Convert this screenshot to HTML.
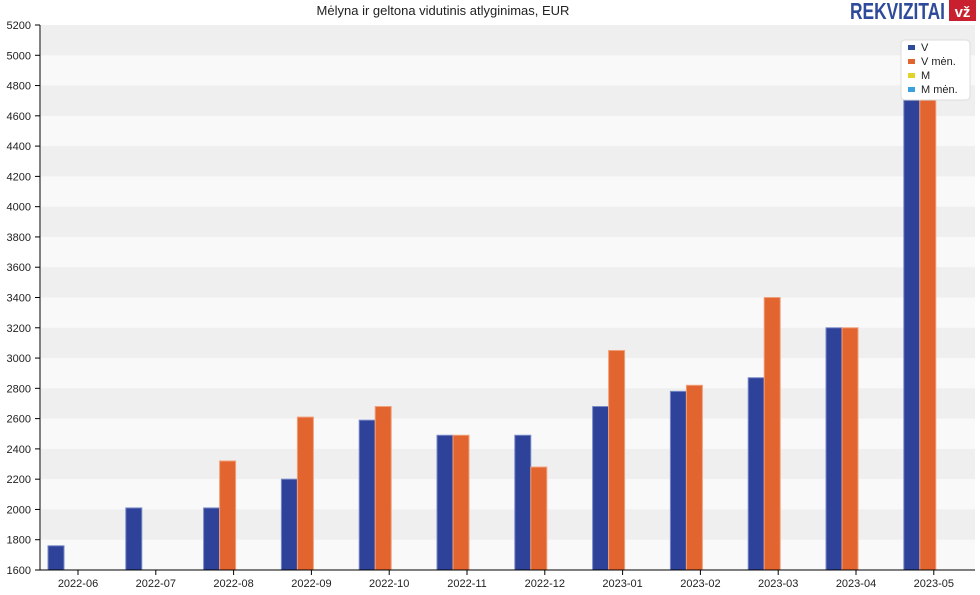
<!DOCTYPE html><html><head><style>body{margin:0;background:#fff}</style></head><body>
<svg width="980" height="590" xmlns="http://www.w3.org/2000/svg" font-family="Liberation Sans, sans-serif">
<rect width="980" height="590" fill="#fff"/>
<text x="443" y="15" font-size="13" text-anchor="middle" fill="#222">Mėlyna ir geltona vidutinis atlyginimas, EUR</text>
<text x="850" y="19" font-size="23" font-weight="bold" fill="#2e4a9a" textLength="95" lengthAdjust="spacingAndGlyphs">REKVIZITAI</text>
<rect x="949" y="0" width="27" height="21" fill="#c8202f"/>
<text x="962.5" y="17" font-size="15" font-weight="bold" fill="#fff" text-anchor="middle">vž</text>
<rect x="41" y="25" width="934" height="545" fill="#f9f9f9"/>
<g fill="#efefef">
<rect x="41" y="509.44" width="934" height="30.28"/>
<rect x="41" y="448.89" width="934" height="30.28"/>
<rect x="41" y="388.33" width="934" height="30.28"/>
<rect x="41" y="327.78" width="934" height="30.28"/>
<rect x="41" y="267.22" width="934" height="30.28"/>
<rect x="41" y="206.67" width="934" height="30.28"/>
<rect x="41" y="146.11" width="934" height="30.28"/>
<rect x="41" y="85.56" width="934" height="30.28"/>
<rect x="41" y="25" width="934" height="30.28"/>
</g>
<g fill="#2e4299" stroke="#7a8bc8">
<rect x="48" y="545.78" width="16" height="24.22"/>
<rect x="125.8" y="507.93" width="16" height="62.07"/>
<rect x="203.6" y="507.93" width="16" height="62.07"/>
<rect x="281.4" y="479.17" width="16" height="90.83"/>
<rect x="359.2" y="420.13" width="16" height="149.87"/>
<rect x="437" y="435.26" width="16" height="134.74"/>
<rect x="514.8" y="435.26" width="16" height="134.74"/>
<rect x="592.6" y="406.5" width="16" height="163.5"/>
<rect x="670.4" y="391.36" width="16" height="178.64"/>
<rect x="748.2" y="377.73" width="16" height="192.27"/>
<rect x="826" y="327.78" width="16" height="242.22"/>
<rect x="903.8" y="91.61" width="16" height="478.39"/>
</g>
<g fill="#e2642f" stroke="#f0a07a">
<rect x="219.6" y="461" width="16" height="109"/>
<rect x="297.4" y="417.1" width="16" height="152.9"/>
<rect x="375.2" y="406.5" width="16" height="163.5"/>
<rect x="453" y="435.26" width="16" height="134.74"/>
<rect x="530.8" y="467.06" width="16" height="102.94"/>
<rect x="608.6" y="350.49" width="16" height="219.51"/>
<rect x="686.4" y="385.3" width="16" height="184.7"/>
<rect x="764.2" y="297.5" width="16" height="272.5"/>
<rect x="842" y="327.78" width="16" height="242.22"/>
<rect x="919.8" y="91.61" width="16" height="478.39"/>
</g>
<line x1="40" y1="25" x2="40" y2="570" stroke="#000"/>
<line x1="40" y1="570" x2="975" y2="570" stroke="#000"/>
<g stroke="#000">
<line x1="35" x2="40" y1="570" y2="570"/><line x1="35" x2="40" y1="539.72" y2="539.72"/><line x1="35" x2="40" y1="509.44" y2="509.44"/><line x1="35" x2="40" y1="479.17" y2="479.17"/><line x1="35" x2="40" y1="448.89" y2="448.89"/><line x1="35" x2="40" y1="418.61" y2="418.61"/><line x1="35" x2="40" y1="388.33" y2="388.33"/><line x1="35" x2="40" y1="358.06" y2="358.06"/><line x1="35" x2="40" y1="327.78" y2="327.78"/><line x1="35" x2="40" y1="297.5" y2="297.5"/><line x1="35" x2="40" y1="267.22" y2="267.22"/><line x1="35" x2="40" y1="236.94" y2="236.94"/><line x1="35" x2="40" y1="206.67" y2="206.67"/><line x1="35" x2="40" y1="176.39" y2="176.39"/><line x1="35" x2="40" y1="146.11" y2="146.11"/><line x1="35" x2="40" y1="115.83" y2="115.83"/><line x1="35" x2="40" y1="85.56" y2="85.56"/><line x1="35" x2="40" y1="55.28" y2="55.28"/><line x1="35" x2="40" y1="25" y2="25"/>
<line y1="570" y2="575" x1="78" x2="78"/><line y1="570" y2="575" x1="155.8" x2="155.8"/><line y1="570" y2="575" x1="233.6" x2="233.6"/><line y1="570" y2="575" x1="311.4" x2="311.4"/><line y1="570" y2="575" x1="389.2" x2="389.2"/><line y1="570" y2="575" x1="467" x2="467"/><line y1="570" y2="575" x1="544.8" x2="544.8"/><line y1="570" y2="575" x1="622.6" x2="622.6"/><line y1="570" y2="575" x1="700.4" x2="700.4"/><line y1="570" y2="575" x1="778.2" x2="778.2"/><line y1="570" y2="575" x1="856" x2="856"/><line y1="570" y2="575" x1="933.8" x2="933.8"/>
</g>
<g font-size="11" fill="#222" text-anchor="end">
<text x="31" y="574">1600</text><text x="31" y="543.7">1800</text><text x="31" y="513.4">2000</text><text x="31" y="483.2">2200</text><text x="31" y="452.9">2400</text><text x="31" y="422.6">2600</text><text x="31" y="392.3">2800</text><text x="31" y="362.1">3000</text><text x="31" y="331.8">3200</text><text x="31" y="301.5">3400</text><text x="31" y="271.2">3600</text><text x="31" y="240.9">3800</text><text x="31" y="210.7">4000</text><text x="31" y="180.4">4200</text><text x="31" y="150.1">4400</text><text x="31" y="119.8">4600</text><text x="31" y="89.6">4800</text><text x="31" y="59.3">5000</text><text x="31" y="29">5200</text>
</g>
<g font-size="11" fill="#222" text-anchor="middle">
<text x="78" y="587">2022-06</text><text x="155.8" y="587">2022-07</text><text x="233.6" y="587">2022-08</text><text x="311.4" y="587">2022-09</text><text x="389.2" y="587">2022-10</text><text x="467" y="587">2022-11</text><text x="544.8" y="587">2022-12</text><text x="622.6" y="587">2023-01</text><text x="700.4" y="587">2023-02</text><text x="778.2" y="587">2023-03</text><text x="856" y="587">2023-04</text><text x="933.8" y="587">2023-05</text>
</g>
<g font-size="11" fill="#222">
<rect x="901" y="40" width="69" height="60" rx="4" fill="#fff" stroke="#ddd"/>
<rect x="908" y="45" width="7" height="5" fill="#2e4a9a"/><text x="921" y="51">V</text>
<rect x="908" y="59" width="7" height="5" fill="#e2642f"/><text x="921" y="65">V mėn.</text>
<rect x="908" y="73" width="7" height="5" fill="#e3d22a"/><text x="921" y="79">M</text>
<rect x="908" y="87" width="7" height="5" fill="#3aa0e0"/><text x="921" y="93">M mėn.</text>
</g>
</svg></body></html>
